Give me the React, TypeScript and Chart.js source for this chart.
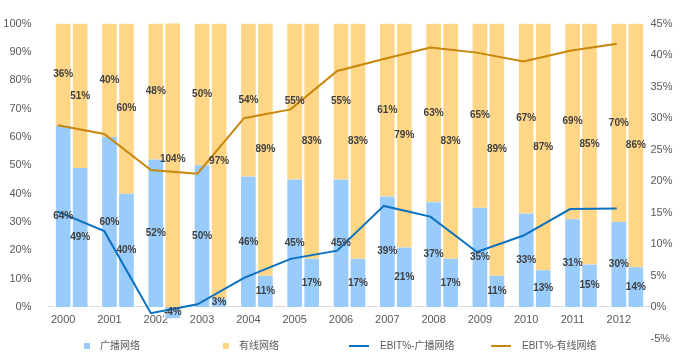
import React, { useEffect, useRef } from 'react';
import { Chart, registerables } from 'chart.js';

Chart.register(...registerables);

const FONT = "'Liberation Sans', Arial, 'Noto Sans CJK SC', sans-serif";

const YEARS = ['2000', '2001', '2002', '2003', '2004', '2005', '2006', '2007', '2008', '2009', '2010', '2011', '2012'];
// left column of each year
const BROADCAST_A = [64, 60, 52, 50, 46, 45, 45, 39, 37, 35, 33, 31, 30];
const CABLE_A = [36, 40, 48, 50, 54, 55, 55, 61, 63, 65, 67, 69, 70];
// right column of each year
const BROADCAST_B = [49, 40, -4, 3, 11, 17, 17, 21, 17, 11, 13, 15, 14];
const CABLE_B = [51, 60, 104, 97, 89, 83, 83, 79, 83, 89, 87, 85, 86];
// EBIT margins (right axis)
const EBIT_BROADCAST = [15.2, 12.1, -0.9, 0.5, 4.7, 7.7, 9.0, 16.1, 14.4, 8.8, 11.4, 15.6, 15.7];
const EBIT_CABLE = [28.9, 27.5, 21.8, 21.2, 30.0, 31.4, 37.5, 39.4, 41.2, 40.4, 39.0, 40.7, 41.8];

const LEFT_TICKS = [0, 10, 20, 30, 40, 50, 60, 70, 80, 90, 100];
const RIGHT_TICKS = [-5, 0, 5, 10, 15, 20, 25, 30, 35, 40, 45];

const LABEL_BROADCAST = '广播网络';
const LABEL_CABLE = '有线网络';
const LABEL_EBIT_B = 'EBIT%-广播网络';
const LABEL_EBIT_C = 'EBIT%-有线网络';

const BLUE_BAR = '#99CBFB';
const ORANGE_BAR = '#FFD586';
const BLUE_LINE = '#0A70C0';
const ORANGE_LINE = '#C8860B';

const LEGEND_X = [84, 223, 349, 491];

const barLabelPlugin = {
  id: 'barLabels',
  afterDatasetsDraw(chart: any) {
    const ctx = chart.ctx;
    ctx.save();
    ctx.font = `bold 10px ${FONT}`;
    ctx.fillStyle = '#404040';
    ctx.textAlign = 'center';
    ctx.textBaseline = 'middle';
    chart.data.datasets.forEach((ds: any, di: number) => {
      if (ds.type !== 'bar') return;
      const meta = chart.getDatasetMeta(di);
      meta.data.forEach((el: any, i: number) => {
        const v = ds.data[i];
        if (v === null || v === undefined) return;
        const y = (el.y + el.base) / 2;
        ctx.fillText(`${v}%`, el.x, y);
      });
    });
    ctx.restore();
  },
};

const legendPlugin = {
  id: 'customLegend',
  afterDraw(chart: any) {
    const ctx = chart.ctx;
    const ds = chart.data.datasets;
    const items = [
      { text: ds[2].label, color: ds[2].backgroundColor, kind: 'box' },
      { text: ds[3].label, color: ds[3].backgroundColor, kind: 'box' },
      { text: ds[0].label, color: ds[0].borderColor, kind: 'line' },
      { text: ds[1].label, color: ds[1].borderColor, kind: 'line' },
    ];
    const y = 346;
    ctx.save();
    ctx.font = `10px ${FONT}`;
    ctx.textBaseline = 'middle';
    ctx.textAlign = 'left';
    items.forEach((it, i) => {
      const x = LEGEND_X[i];
      let tx;
      if (it.kind === 'box') {
        ctx.fillStyle = it.color;
        ctx.fillRect(x, y - 3, 6, 6);
        tx = x + 16;
      } else {
        ctx.strokeStyle = it.color;
        ctx.lineWidth = 2;
        ctx.beginPath();
        ctx.moveTo(x, y);
        ctx.lineTo(x + 20, y);
        ctx.stroke();
        tx = x + 31;
      }
      ctx.fillStyle = '#595959';
      ctx.fillText(it.text, tx, y);
    });
    ctx.restore();
  },
};

const barStyle = {
  type: 'bar' as const,
  xAxisID: 'x',
  yAxisID: 'y',
  order: 1,
  barThickness: 17,
  borderColor: '#FFFFFF',
  borderWidth: { left: 1.5, right: 1.5, top: 0, bottom: 0 },
  borderSkipped: false,
};

export default function App() {
  const ref = useRef<HTMLCanvasElement>(null);

  useEffect(() => {
    if (!ref.current) return;
    const linePoints = (arr: number[]) => arr.map((v, i) => ({ x: i, y: v }));
    const chart = new Chart(ref.current, {
      type: 'bar',
      data: {
        labels: YEARS,
        datasets: [
          {
            type: 'line',
            label: LABEL_EBIT_B,
            data: linePoints(EBIT_BROADCAST),
            xAxisID: 'xl',
            yAxisID: 'y1',
            borderColor: BLUE_LINE,
            backgroundColor: BLUE_LINE,
            borderWidth: 2,
            pointRadius: 0,
            tension: 0,
            order: 0,
          } as any,
          {
            type: 'line',
            label: LABEL_EBIT_C,
            data: linePoints(EBIT_CABLE),
            xAxisID: 'xl',
            yAxisID: 'y1',
            borderColor: ORANGE_LINE,
            backgroundColor: ORANGE_LINE,
            borderWidth: 2,
            pointRadius: 0,
            tension: 0,
            order: 0,
          },
          { ...barStyle, label: LABEL_BROADCAST, data: BROADCAST_A, stack: 'a', backgroundColor: BLUE_BAR },
          { ...barStyle, label: LABEL_CABLE, data: CABLE_A, stack: 'a', backgroundColor: ORANGE_BAR },
          { ...barStyle, label: LABEL_BROADCAST, data: BROADCAST_B, stack: 'b', backgroundColor: BLUE_BAR },
          { ...barStyle, label: LABEL_CABLE, data: CABLE_B, stack: 'b', backgroundColor: ORANGE_BAR },
        ] as any,
      },
      options: {
        animation: false,
        responsive: true,
        maintainAspectRatio: false,
        devicePixelRatio: 1,
        layout: { padding: { left: 0, right: 0, top: 9.5, bottom: 25 } },
        plugins: {
          legend: { display: false },
          tooltip: { enabled: false },
        },
        scales: {
          x: {
            type: 'category',
            stacked: true,
            position: { y: 0 } as any,
            offset: true,
            grid: { display: false, drawTicks: false },
            border: { display: true, color: '#D9D9D9', width: 1 },
            ticks: {
              color: '#595959',
              font: { family: FONT, size: 11 },
              padding: 6,
              labelOffset: -8.5,
              maxRotation: 0,
              autoSkip: false,
            },
          },
          xl: {
            type: 'linear',
            display: false,
            offset: false,
            grid: { offset: false },
            min: -0.1975,
            max: 12.726,
          },
          y: {
            type: 'linear',
            position: 'left',
            stacked: true,
            min: -11.3,
            max: 100,
            grid: { display: false, drawTicks: false },
            border: { display: false },
            afterBuildTicks: (scale: any) => {
              scale.ticks = LEFT_TICKS.map((v) => ({ value: v }));
            },
            afterFit: (scale: any) => {
              scale.width = 48.5;
            },
            ticks: {
              color: '#595959',
              font: { family: FONT, size: 11 },
              padding: 17,
              callback: (v: any) => `${v}%`,
            },
          },
          y1: {
            type: 'linear',
            position: 'right',
            min: -5,
            max: 45,
            grid: { display: false, drawTicks: false },
            border: { display: false },
            afterBuildTicks: (scale: any) => {
              scale.ticks = RIGHT_TICKS.map((v) => ({ value: v }));
            },
            afterFit: (scale: any) => {
              scale.width = 42.5;
            },
            ticks: {
              color: '#595959',
              font: { family: FONT, size: 11 },
              padding: 0,
              callback: (v: any) => `${v}%`,
            },
          },
        },
      },
      plugins: [barLabelPlugin, legendPlugin],
    });
    return () => chart.destroy();
  }, []);

  return (
    <div style={{ position: 'fixed', left: 0, top: 0, width: 693, height: 364, background: '#fff' }}>
      <canvas ref={ref} />
    </div>
  );
}
